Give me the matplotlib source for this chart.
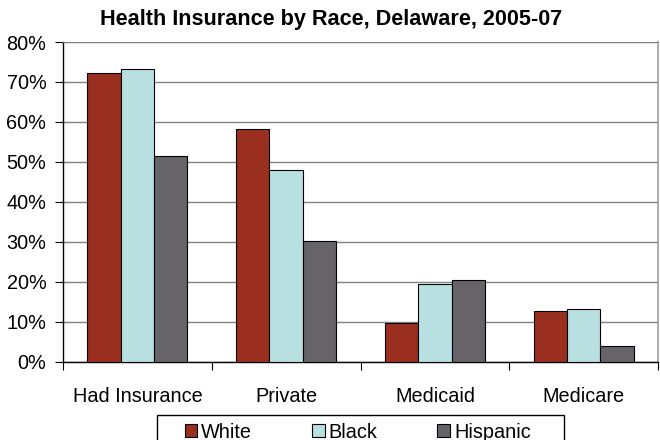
import matplotlib.pyplot as plt
import numpy as np
from matplotlib.patches import Rectangle
from matplotlib.ticker import FuncFormatter, FixedLocator

plt.rcParams['font.family'] = ['Liberation Sans', 'DejaVu Sans']
plt.rcParams['font.size'] = 14.3

categories = ['Had Insurance', 'Private', 'Medicaid', 'Medicare']
races = ['White', 'Black', 'Hispanic']
white = [72.3, 58.2, 9.6, 12.6]
black = [73.3, 48.0, 19.4, 13.2]
hispanic = [51.5, 30.2, 20.5, 4.0]
colors = ['#9A2E1F', '#B9E0E1', '#666468']

fig = plt.figure(figsize=(6.6, 4.4), dpi=100)
ax = fig.add_axes([0.0955, 0.178, 0.9015, 0.7265])

x = np.arange(len(categories))
w = 0.224
for i, (vals, name) in enumerate(zip([white, black, hispanic], races)):
    ax.bar(x + (i - 1) * w, vals, w, color=colors[i], edgecolor='black',
           linewidth=0.8, label=name, zorder=3)

ax.set_xlim(-0.5, len(categories) - 0.5)
ax.set_ylim(0, 80)
ax.set_yticks(range(0, 81, 10))
ax.yaxis.set_major_formatter(FuncFormatter(lambda v, p: f'{v:.0f}%'))
ax.yaxis.grid(True, color='#808080', linewidth=1.0, zorder=0)
ax.tick_params(axis='y', length=6, width=0.8, pad=6, direction='out')

# category labels centred, tick marks on the group boundaries
ax.set_xticks(x)
ax.set_xticklabels(categories)
ax.tick_params(axis='x', which='major', length=0, pad=18)
ax.xaxis.set_minor_locator(FixedLocator(np.arange(-0.5, len(categories), 1.0)))
ax.tick_params(axis='x', which='minor', length=6, width=0.8, direction='out')

for side in ['left', 'bottom']:
    ax.spines[side].set_color('black')
    ax.spines[side].set_linewidth(1.0)
ax.spines['top'].set_color('#808080')
ax.spines['right'].set_color('#A0A0A0')
ax.spines['right'].set_linewidth(1.2)

fig.text(0.502, 1 - 20 / 440, 'Health Insurance by Race, Delaware, 2005-07',
         ha='center', va='center', fontweight='bold', fontsize=15.6)

# legend with its own frame
fig.legend(loc='center', bbox_to_anchor=(0.542, 1 - 432 / 440), ncol=3,
           frameon=False, handlelength=0.65, handleheight=0.65,
           handletextpad=0.2, columnspacing=3.0)
fig.patches.append(Rectangle((157 / 660, -0.05), (564 - 157) / 660, 0.05 + 25 / 440,
                             transform=fig.transFigure, fill=False,
                             edgecolor='black', linewidth=1.0))

fig.savefig('out.png', dpi=100)
